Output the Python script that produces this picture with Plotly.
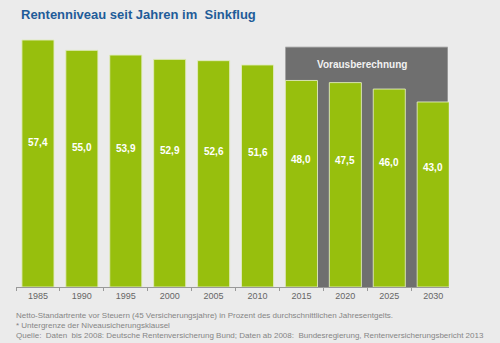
import plotly.graph_objects as go

# Rentenniveau (netto vor Steuern) in Prozent
years = ["1985", "1990", "1995", "2000", "2005", "2010", "2015", "2020", "2025", "2030"]
values = [57.4, 55.0, 53.9, 52.9, 52.6, 51.6, 48.0, 47.5, 46.0, 43.0]
labels = ["57,4", "55,0", "53,9", "52,9", "52,6", "51,6", "48,0", "47,5", "46,0", "43,0"]
forecast_from = "2015"

title = "Rentenniveau seit Jahren im  Sinkflug"
forecast_label = "Vorausberechnung"
footnotes = [
    "Netto-Standartrente vor Steuern (45 Versicherungsjahre) in Prozent des durchschnittlichen Jahresentgelts.",
    "* Untergrenze der Niveausicherungsklausel",
    "Quelle:  Daten  bis 2008: Deutsche Rentenversicherung Bund; Daten ab 2008:  Bundesregierung, Rentenversicherungsbericht 2013",
]

BG = "#ebebeb"
GREEN = "#97bf0d"
GREY_BOX = "#6f6f6f"
BAR_W = 0.73
FONT = "Liberation Sans, Arial"

PLOT_L, PLOT_R, PLOT_T, PLOT_B = 16, 449, 30, 287
W, H = 500, 343
PX_PER_UNIT = 4.303


def px_to_paper(px, py):
    return (px - PLOT_L) / (PLOT_R - PLOT_L), (PLOT_B - py) / (PLOT_B - PLOT_T)


fig = go.Figure()
fig.add_trace(go.Bar(
    x=years, y=values, width=BAR_W,
    marker=dict(color=GREEN, line=dict(color="rgba(225,235,190,0.9)", width=1)),
    hoverinfo="skip",
))

# forecast panel behind the projected bars
i0 = years.index(forecast_from)
box_x0, box_x1, box_top = i0 - BAR_W / 2, len(years) - 1 + 0.33, 55.8
fig.add_shape(type="rect", xref="x", yref="y", layer="below",
              x0=box_x0, x1=box_x1, y0=0, y1=box_top,
              fillcolor=GREY_BOX, line=dict(width=0))
fig.add_shape(type="line", xref="x", yref="y", layer="below",
              x0=box_x0, x1=box_x1, y0=box_top, y1=box_top,
              line=dict(color="#c4c4c4", width=1))
fig.add_annotation(x=7.38, y=51.6, xref="x", yref="y", text=f"<b>{forecast_label}</b>",
                   showarrow=False, font=dict(family=FONT, size=10, color="#f2f2f2"))

# value labels inside the bars
for i, (v, lab) in enumerate(zip(values, labels)):
    fig.add_annotation(x=i, y=0.404 * v + 10.3, xref="x", yref="y", text=f"<b>{lab}</b>",
                       showarrow=False, font=dict(family=FONT, size=10, color="#ffffff"))

# title
tx, ty = px_to_paper(19, 14)
fig.add_annotation(x=tx, y=ty, xref="paper", yref="paper", xanchor="left", yanchor="middle",
                   text=f"<b>{title}</b>", showarrow=False,
                   font=dict(family=FONT, size=13, color="#1f5c99"))

# footnotes
for k, line in enumerate(footnotes):
    fx, fy = px_to_paper(14, 315 + 10 * k)
    fig.add_annotation(x=fx, y=fy, xref="paper", yref="paper", xanchor="left", yanchor="middle",
                       text=line, showarrow=False,
                       font=dict(family=FONT, size=8, color="#858585"))

fig.update_layout(
    width=W, height=H,
    margin=dict(l=PLOT_L, r=W - PLOT_R, t=PLOT_T, b=H - PLOT_B),
    paper_bgcolor=BG, plot_bgcolor=BG,
    showlegend=False,
    xaxis=dict(type="category", range=[-0.5, 9.36], showgrid=False, zeroline=False,
               showline=True, linecolor="#999999", linewidth=1,
               ticks="outside", tickson="boundaries", ticklen=3, tickcolor="#999999",
               tickfont=dict(family=FONT, size=9, color="#666666")),
    yaxis=dict(range=[0, (PLOT_B - PLOT_T) / PX_PER_UNIT], visible=False,
               showgrid=False, zeroline=False),
)

fig.write_html("out.html")
